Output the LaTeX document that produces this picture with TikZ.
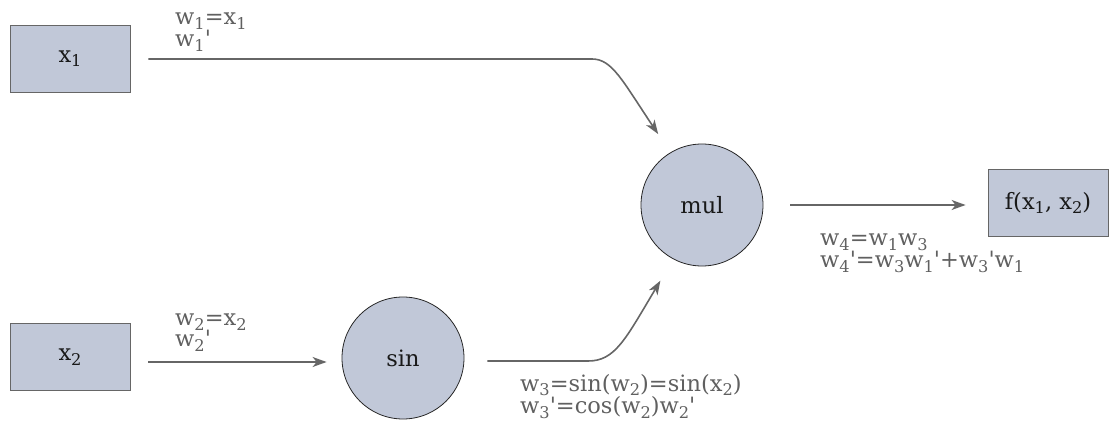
\documentclass[tikz,border=0pt]{standalone}
\usepackage{fontspec}
\setmainfont{DejaVu Serif}[Ligatures=TeXOff]
\usetikzlibrary{arrows.meta}
\definecolor{nodefill}{HTML}{C1C8D8}
\definecolor{linegray}{HTML}{666666}
\definecolor{labelgray}{HTML}{606060}
\newcommand\sbx[1]{\raisebox{-0.2em}{\scalebox{0.72}{#1}}}
\newcommand\twolines[3]{\vtop{\baselineskip=#1\lineskiplimit=-16000pt\hbox{#2}\hbox{#3}}}
\begin{document}
\begin{tikzpicture}[x=1pt,y=-1pt,
  boxnode/.style={draw=linegray,line width=0.8pt,fill=nodefill,minimum width=120pt,minimum height=67pt,inner sep=0pt,font=\fontsize{22.5}{26}\selectfont,text=black!90},
  opnode/.style={circle,draw=black!85,line width=0.8pt,fill=nodefill,minimum size=122pt,inner sep=0pt,font=\fontsize{22.5}{26}\selectfont,text=black!90},
  lbl/.style={anchor=base west,inner sep=0pt,text=labelgray,font=\fontsize{22.5}{26}\selectfont},
  conn/.style={draw=linegray,line width=1.6pt,-{Stealth[length=14pt,width=10pt,inset=4pt]}}]
\useasboundingbox (0,0) rectangle (1114,430);
\node[boxnode] (x1) at (70,58.5) {x\sbx{1}};
\node[boxnode] (x2) at (70,357) {x\sbx{2}};
\node[opnode] (sin) at (403,358) {sin};
\node[opnode] (mul) at (702,205) {mul};
\node[boxnode] (f) at (1048,203) {f(x\sbx{1}, x\sbx{2})};
\coordinate (c1) at (592,59);
\coordinate (c2) at (588,361);
\draw[conn,shorten <=18pt,shorten >=22pt] ([yshift=-0.5pt]x1.east) -- (c1) .. controls (612,59) and (622,80) .. (mul.121);
\draw[conn,shorten <=18pt,shorten >=15pt] ([yshift=-5pt]x2.east) -- ([yshift=-5pt]x2.east -| sin.west);
\draw[conn,shorten <=23pt,shorten >=25pt] ([yshift=-3pt]sin.east) -- (c2) .. controls (615,361) and (625,340) .. (mul.242);
\draw[conn,shorten <=27pt,shorten >=22pt] (mul.east) -- (mul.east -| f.west);
\node[lbl] (l1) at (175,25) {\twolines{22pt}{w\sbx{1}=x\sbx{1}}{w\sbx{1}'}};
\node[lbl] (l2) at (175,326) {\twolines{21pt}{w\sbx{2}=x\sbx{2}}{w\sbx{2}'}};
\node[lbl] (l3) at (520,391) {\twolines{23pt}{w\sbx{3}=sin(w\sbx{2})=sin(x\sbx{2})}{w\sbx{3}'=cos(w\sbx{2})w\sbx{2}'}};
\node[lbl] (l4) at (820,246) {\twolines{22pt}{w\sbx{4}=w\sbx{1}w\sbx{3}}{w\sbx{4}'=w\sbx{3}w\sbx{1}'+w\sbx{3}'w\sbx{1}}};
\end{tikzpicture}
\end{document}
